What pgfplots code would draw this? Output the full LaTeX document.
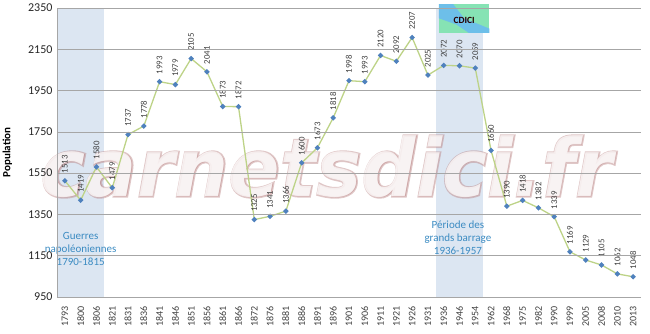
\documentclass[border=0pt]{standalone}
\usepackage{pgfplots}
\pgfplotsset{compat=1.18}
\usepackage{fontspec}
\setmainfont{Carlito}
\newfontfamily\wmfont{DejaVu Sans}
\newfontfamily\wmfontthick[FakeBold=3]{DejaVu Sans}
\definecolor{bandcol}{HTML}{DCE6F2}
\definecolor{linecol}{HTML}{BDD387}
\definecolor{markcol}{HTML}{4F81BD}
\definecolor{labcol}{HTML}{404040}
\definecolor{anncol}{HTML}{3B8BC2}
\definecolor{gridcol}{HTML}{A6A6A6}
\definecolor{wmcol}{RGB}{185,130,130}
\definecolor{logogreen}{HTML}{86E3B4}
\definecolor{logoblue}{HTML}{6DBFE9}
\begin{document}
\begin{tikzpicture}
\useasboundingbox (-57pt,-36pt) rectangle (593pt,297pt);
\begin{axis}[
  scale only axis, width=584pt, height=289pt,
  xmin=-0.5, xmax=36.5, ymin=950, ymax=2350,
  ytick={950,1150,1350,1550,1750,1950,2150,2350},
  xtick={0,...,36},
  xticklabels={1793,1800,1806,1821,1831,1836,1841,1846,1851,1856,1861,1866,1872,1876,1881,1886,1891,1896,1901,1906,1911,1921,1926,1931,1936,1946,1954,1962,1968,1975,1982,1990,1999,2005,2008,2010,2013},
  x tick label style={rotate=90, anchor=east, xshift=-6pt, font=\fontsize{10}{10}\selectfont, color=labcol},
  y tick label style={font=\fontsize{12}{12}\selectfont, xshift=-1pt, color=black!85},
  /pgf/number format/assume math mode=true,
  /pgf/number format/1000 sep={},
  ymajorgrids, grid style={gridcol, line width=0.7pt},
  axis x line*=bottom, axis y line*=left,
  axis line style={gridcol, -, line width=0.7pt},
  major tick length=0pt,
  ylabel={\textbf{Population}},
  ylabel style={font=\fontsize{11}{11}\selectfont, at={(axis description cs:-0.071,0.5)}, anchor=south},
  axis on top,
  clip mode=individual,
]
\addplot[fill=bandcol, draw=none, forget plot] coordinates {(-0.5,950) (-0.5,2350) (2.5,2350) (2.5,950)} --cycle;
\addplot[fill=bandcol, draw=none, forget plot] coordinates {(23.5,950) (23.5,2350) (26.5,2350) (26.5,950)} --cycle;
% watermark
\node[font=\wmfontthick\bfseries\itshape\fontsize{80}{80}\selectfont, color=wmcol, opacity=0.45, xscale=0.95] at (axis cs:16.6,1582) {carnetsdici.fr};
\node[font=\wmfont\bfseries\itshape\fontsize{80}{80}\selectfont, color=white, opacity=0.8, xscale=0.95] at (axis cs:16.6,1582) {carnetsdici.fr};
\addplot[color=linecol, line width=1.3pt, mark=*, mark size=1.9pt,
  mark options={fill=markcol, draw=markcol},
  nodes near coords,
  every node near coord/.style={yshift=6pt, rotate=90, anchor=west, inner sep=1pt,
     font=\fontsize{8.8}{8.8}\selectfont, color=labcol},
  point meta=explicit symbolic]
coordinates {
(0,1513) [1513] (1,1419) [1419] (2,1580) [1580] (3,1479) [1479] (4,1737) [1737]
(5,1778) [1778] (6,1993) [1993] (7,1979) [1979] (8,2105) [2105] (9,2041) [2041]
(10,1873) [1873] (11,1872) [1872] (12,1325) [1325] (13,1341) [1341] (14,1366) [1366]
(15,1600) [1600] (16,1673) [1673] (17,1818) [1818] (18,1998) [1998] (19,1993) [1993]
(20,2120) [2120] (21,2092) [2092] (22,2207) [2207] (23,2025) [2025] (24,2072) [2072]
(25,2070) [2070] (26,2059) [2059] (27,1660) [1660] (28,1390) [1390] (29,1418) [1418]
(30,1382) [1382] (31,1339) [1339] (32,1169) [1169] (33,1129) [1129] (34,1105) [1105]
(35,1062) [1062] (36,1048) [1048]
};
\node[align=center, color=anncol, font=\fontsize{11}{13}\selectfont] at (axis cs:1,1183) {Guerres\\napoléoniennes\\1790-1815};
\node[align=center, color=anncol, font=\fontsize{11}{13}\selectfont] at (axis cs:24.9,1236) {Période des\\grands barrage\\1936-1957};
% logo
\fill[logogreen] (axis cs:23.7,2229) rectangle (axis cs:26.9,2369);
\fill[logoblue] (axis cs:23.7,2369) -- (axis cs:24.6,2369) -- (axis cs:25.3,2300) -- (axis cs:26.9,2250) -- (axis cs:26.9,2229) -- (axis cs:25.6,2229) -- (axis cs:24.8,2270) -- (axis cs:23.7,2300) -- cycle;
\node[font=\bfseries\fontsize{9.5}{9.5}\selectfont, color=black!85!red, inner sep=0pt] at (axis cs:25.3,2290) {CDICI};
\end{axis}
\end{tikzpicture}
\end{document}
